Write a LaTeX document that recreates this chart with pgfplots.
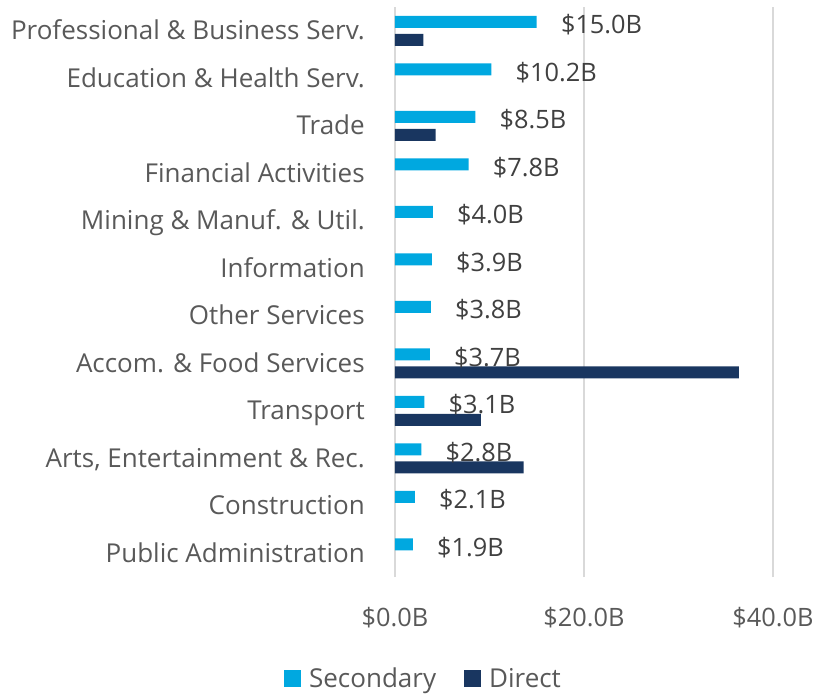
\documentclass[border=0pt]{standalone}
\usepackage{pgfplots}
\pgfplotsset{compat=1.18}
\usepackage{fontspec}
\setmainfont{Open Sans}
\definecolor{sec}{RGB}{0,168,224}
\definecolor{dir}{RGB}{25,54,96}
\definecolor{txt}{RGB}{89,89,89}
\definecolor{lbl}{RGB}{64,64,64}
\definecolor{gridc}{RGB}{217,217,217}
\begin{document}
\begin{tikzpicture}
\useasboundingbox (0,0) rectangle (613.5pt,520.5pt);
\begin{axis}[
  at={(296.25pt,87.75pt)}, anchor=south west,
  scale only axis, width=283.5pt, height=427.5pt,
  xbar, bar width=9pt,
  xmin=0, xmax=40, ymin=-0.5, ymax=11.5,
  axis line style={draw=none},
  major tick length=0pt,
  xmajorgrids, grid style={gridc, line width=1.5pt},
  xtick={0,20,40}, xticklabels={\$0.0B,\$20.0B,\$40.0B},
  ytick={0,...,11},
  yticklabels={Public Administration, Construction, {Arts, Entertainment \& Rec.}, Transport, Accom. \& Food Services, Other Services, Information, Mining \& Manuf. \& Util., Financial Activities, Trade, Education \& Health Serv., Professional \& Business Serv.},
  tick label style={text=txt, inner sep=0pt, text height=0.72em, text depth=0pt},
  yticklabel style={font=\fontsize{19.5}{21}\selectfont, anchor=east, xshift=-22.5pt, yshift=-3pt},
  xticklabel style={font=\fontsize{19}{21}\selectfont, anchor=north, yshift=-30pt},
  legend style={at={(axis description cs:0.0728,-0.178)}, anchor=center, draw=none, fill=none,
    legend columns=2, font=\fontsize{19.5}{21}\selectfont, text=txt,
    nodes={inner sep=0pt},
    /tikz/every odd column/.append style={column sep=6pt},
    /tikz/every even column/.append style={column sep=21pt}},
  legend image code/.code={\fill[#1] (0pt,-6.375pt) rectangle (12.75pt,6.375pt);},
]
\addplot[fill=sec, draw=none, bar shift=6.75pt,
  nodes near coords={\$\pgfmathprintnumber[fixed,fixed zerofill,precision=1,assume math mode=true]{\pgfplotspointmeta}B},
  nodes near coords style={anchor=west, inner sep=0pt, xshift=18pt, yshift=-5.5pt, text=lbl, font=\fontsize{19}{21}\selectfont, text height=0.72em, text depth=0pt}]
  coordinates {(15.0,11) (10.2,10) (8.5,9) (7.8,8) (4.0,7) (3.9,6) (3.8,5) (3.7,4) (3.1,3) (2.8,2) (2.1,1) (1.9,0)};
\addlegendentry{Secondary}
\addplot[fill=dir, draw=none, bar shift=-6.75pt]
  coordinates {(3.0,11) (4.3,9) (36.4,4) (9.1,3) (13.6,2)};
\addlegendentry{Direct}
\end{axis}
\end{tikzpicture}
\end{document}
